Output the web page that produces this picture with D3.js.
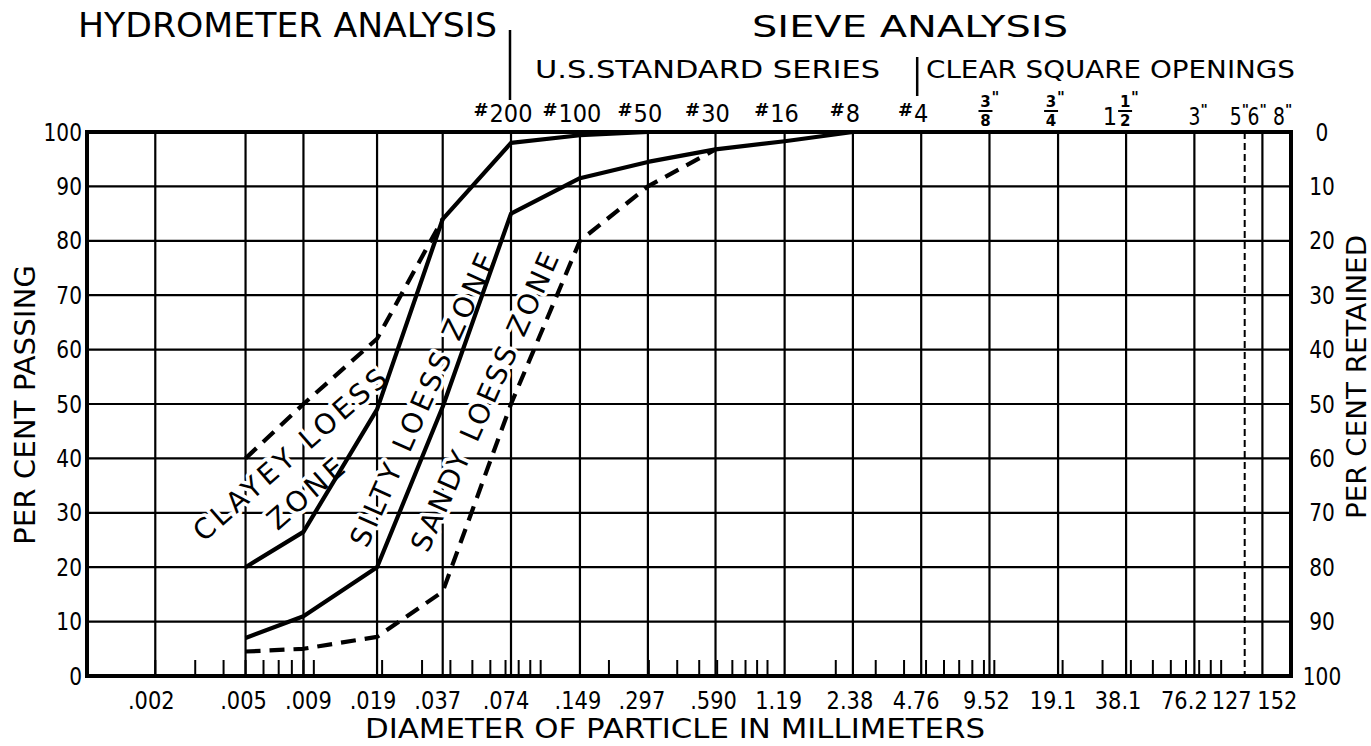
<!DOCTYPE html>
<html><head><meta charset="utf-8">
<script src="https://cdn.jsdelivr.net/npm/d3@7"></script>
<style>
html,body{margin:0;padding:0;background:#fff;}
svg text{font-family:"DejaVu Sans",sans-serif;fill:#000;}
</style></head><body>
<svg id="chart" width="1371" height="746"></svg>
<script>
// ---------- DATA ----------
const gridSizes  = [0.002,0.005,0.009,0.019,0.037,0.074,0.149,0.297,0.590,1.19,2.38,4.76,9.52,19.1,38.1,76.2,127,152];
const gridLabels = [".002",".005",".009",".019",".037",".074",".149",".297",".590","1.19","2.38","4.76","9.52","19.1","38.1","76.2","127","152"];
const dashedGridSize = 127;
const sieveSizes   = [0.074,0.149,0.297,0.590,1.19,2.38,4.76];
const sieveNumbers = ["200","100","50","30","16","8","4"];
const openingSizes = [9.52,19.1,38.1,76.2,127,152,203.2];
const openingWhole = ["","","1","3","5","6","8"];
const openingNum   = ["3","3","1","","","",""];
const openingDen   = ["8","4","2","","","",""];
const percentTicks = [0,10,20,30,40,50,60,70,80,90,100];

// zone boundary curves (diameter mm, per cent passing)
const clayeyUpperSize = [0.005,0.009,0.019,0.037];
const clayeyUpperPct  = [40,50,62,84];
const clayeySiltySize = [0.005,0.009,0.019,0.037,0.074,0.149,0.297];
const clayeySiltyPct  = [20,26.5,49,84,98,99.4,100];
const siltySandySize  = [0.005,0.009,0.019,0.037,0.074,0.149,0.297,0.590,1.19,2.38];
const siltySandyPct   = [7,11,20,49.5,85,91.5,94.5,96.8,98.3,100];
const sandyLowerSize  = [0.005,0.009,0.019,0.037,0.074,0.149,0.297,0.590];
const sandyLowerPct   = [4.5,5,7.2,15.5,50,80,90,96.8];

const zoneNames = ["CLAYEY LOESS","ZONE","SILTY LOESS ZONE","SANDY LOESS ZONE"];

// ---------- LAYOUT ----------
const L = 87, R = 1291, T = 132, B = 676;
const svg = d3.select("#chart");
const x = d3.scaleLog().domain([0.001, 203.2]).range([L, R]);
const y = d3.scaleLinear().domain([0, 100]).range([B, T]);

const zoneLayout = [
  {cx:290, cy:455, ang:-41, len:246},
  {cx:306, cy:494, ang:-41, len:92},
  {cx:423, cy:400, ang:-66, len:318},
  {cx:485, cy:402, ang:-66, len:324}
];
const bottomNudge = [-4,-2,5,-4,-5,-5,-2,-6,-2,-6,-3,-5,-3,-5,-8,-10,-13,15];
const inchDigitNudge = [0,0,0,0,-9,-9,-12];
const fracCenterNudge = [-4,-7,0,0,0,0,0];
const NARROW = 0.84;

// ---------- GRID ----------
const grid = svg.append("g").attr("stroke","#000");
grid.selectAll("line.h").data(percentTicks.filter(d => d>0 && d<100)).join("line")
  .attr("x1", L).attr("x2", R).attr("y1", d=>y(d)).attr("y2", d=>y(d))
  .attr("stroke-width", 2.2);
grid.selectAll("line.v").data(gridSizes).join("line")
  .attr("x1", d=>x(d)).attr("x2", d=>x(d)).attr("y1", T).attr("y2", B)
  .attr("stroke-width", d => d===dashedGridSize ? 2 : 2.2)
  .attr("stroke-dasharray", d => d===dashedGridSize ? "7,4" : null);

// minor log ticks along the bottom
const minor = x.ticks().filter(d => d > 0.0011 && d < 200);
grid.selectAll("line.m").data(minor).join("line")
  .attr("x1", d=>x(d)).attr("x2", d=>x(d)).attr("y1", B).attr("y2", B-16)
  .attr("stroke-width", 2);

// ---------- ZONE LABELS (white halo breaks the grid) ----------
svg.append("g").selectAll("text").data(zoneNames).join("text")
  .attr("transform", (d,i)=>`translate(${zoneLayout[i].cx},${zoneLayout[i].cy}) rotate(${zoneLayout[i].ang})`)
  .attr("text-anchor","middle").attr("dominant-baseline","central")
  .attr("font-size", 28)
  .attr("textLength", (d,i)=>zoneLayout[i].len).attr("lengthAdjust","spacing")
  .attr("stroke","#fff").attr("stroke-width",7).attr("paint-order","stroke")
  .attr("stroke-linejoin","round")
  .text(d=>d);

// ---------- CURVES ----------
const line = d3.line().x(d=>x(d[0])).y(d=>y(d[1]));
const curves = [
  {s:clayeyUpperSize, p:clayeyUpperPct, dash:true},
  {s:clayeySiltySize, p:clayeySiltyPct, dash:false},
  {s:siltySandySize,  p:siltySandyPct,  dash:false},
  {s:sandyLowerSize,  p:sandyLowerPct,  dash:true}
];
svg.append("g").selectAll("path").data(curves).join("path")
  .attr("d", c => line(c.s.map((v,i)=>[v, c.p[i]])))
  .attr("fill","none").attr("stroke","#000").attr("stroke-width",4.2)
  .attr("stroke-linejoin","round")
  .attr("stroke-dasharray", c => c.dash ? "15,9" : null);

// ---------- FRAME ----------
svg.append("rect").attr("x",L).attr("y",T).attr("width",R-L).attr("height",B-T)
  .attr("fill","none").attr("stroke","#000").attr("stroke-width",4);

// ---------- AXES LABELS ----------
svg.append("g").selectAll("text").data(percentTicks).join("text")
  .attr("transform", d=>`translate(${L-5},${y(d)}) scale(${NARROW},1)`).attr("dy","0.36em")
  .attr("text-anchor","end").attr("font-size",24).text(d=>d);
svg.append("g").selectAll("text").data(percentTicks).join("text")
  .attr("transform", d=>`translate(1322,${y(d)}) scale(${NARROW},1)`).attr("dy","0.36em")
  .attr("text-anchor","middle").attr("font-size",24).text(d=>100-d);

svg.append("g").selectAll("text").data(gridSizes).join("text")
  .attr("transform", (d,i)=>`translate(${x(d)+bottomNudge[i]},709) scale(${NARROW},1)`)
  .attr("text-anchor","middle").attr("font-size",25)
  .text((d,i)=>gridLabels[i]);

svg.append("text").attr("x",675).attr("y",738).attr("text-anchor","middle")
  .attr("font-size",27).attr("textLength",620).attr("lengthAdjust","spacingAndGlyphs")
  .text("DIAMETER OF PARTICLE IN MILLIMETERS");
svg.append("text").attr("transform","translate(35,405) rotate(-90)")
  .attr("text-anchor","middle").attr("font-size",28).attr("textLength",280)
  .attr("lengthAdjust","spacingAndGlyphs").text("PER CENT PASSING");
svg.append("text").attr("transform","translate(1366,377) rotate(-90)")
  .attr("text-anchor","middle").attr("font-size",27).attr("textLength",284)
  .attr("lengthAdjust","spacingAndGlyphs").text("PER CENT RETAINED");

// ---------- TOP HEADINGS ----------
svg.append("text").attr("x",78).attr("y",37).attr("font-size",33)
  .attr("textLength",419).attr("lengthAdjust","spacingAndGlyphs").text("HYDROMETER ANALYSIS");
svg.append("text").attr("x",752).attr("y",37).attr("font-size",31)
  .attr("textLength",316).attr("lengthAdjust","spacingAndGlyphs").text("SIEVE ANALYSIS");
svg.append("text").attr("x",535).attr("y",78).attr("font-size",25)
  .attr("textLength",345).attr("lengthAdjust","spacingAndGlyphs").text("U.S.STANDARD  SERIES");
svg.append("text").attr("x",926).attr("y",78).attr("font-size",25)
  .attr("textLength",369).attr("lengthAdjust","spacingAndGlyphs").text("CLEAR SQUARE OPENINGS");
svg.append("line").attr("x1",x(0.074)-1).attr("x2",x(0.074)-1).attr("y1",30).attr("y2",100)
  .attr("stroke","#000").attr("stroke-width",2.5);
svg.append("line").attr("x1",x(4.76)-4).attr("x2",x(4.76)-4).attr("y1",57).attr("y2",96)
  .attr("stroke","#000").attr("stroke-width",2.5);

// sieve numbers
const sg = svg.append("g");
sieveSizes.forEach((s,i)=>{
  const t = sg.append("text").attr("transform",`translate(${x(s)},122) scale(0.9,1)`)
    .attr("text-anchor","middle").attr("font-size",25).text(sieveNumbers[i]);
  const w = t.node().getComputedTextLength()*0.9;
  sg.append("text").attr("x", x(s)-w/2-1).attr("y",116).attr("text-anchor","end")
    .attr("font-size",18).attr("font-weight","bold").text("#");
});

// opening sizes (inches)
const og = svg.append("g");
openingSizes.forEach((s,i)=>{
  const gx = x(s);
  if (openingNum[i]) {
    let fc = gx + fracCenterNudge[i];
    if (openingWhole[i]) {
      og.append("text").attr("transform",`translate(${gx-9},125) scale(0.9,1)`).attr("text-anchor","end")
        .attr("font-size",25).text(openingWhole[i]);
      fc = gx - 1;
    }
    og.append("text").attr("x", fc).attr("y",107).attr("text-anchor","middle")
      .attr("font-size",15).attr("font-weight","bold").text(openingNum[i]);
    og.append("line").attr("x1",fc-7).attr("x2",fc+7).attr("y1",111).attr("y2",111)
      .attr("stroke","#000").attr("stroke-width",2);
    og.append("text").attr("x", fc).attr("y",126).attr("text-anchor","middle")
      .attr("font-size",15).attr("font-weight","bold").text(openingDen[i]);
    og.append("text").attr("x", fc+6).attr("y",103).attr("text-anchor","start")
      .attr("font-size",15).attr("font-weight","bold").text('"');
  } else {
    const dc = gx + inchDigitNudge[i];
    og.append("text").attr("transform",`translate(${dc},125) scale(0.75,1)`).attr("text-anchor","middle")
      .attr("font-size",25).text(openingWhole[i]);
    og.append("text").attr("x", dc + 6).attr("y",114).attr("text-anchor","start")
      .attr("font-size",14).attr("font-weight","bold").text('"');
  }
});
</script>
</body></html>
